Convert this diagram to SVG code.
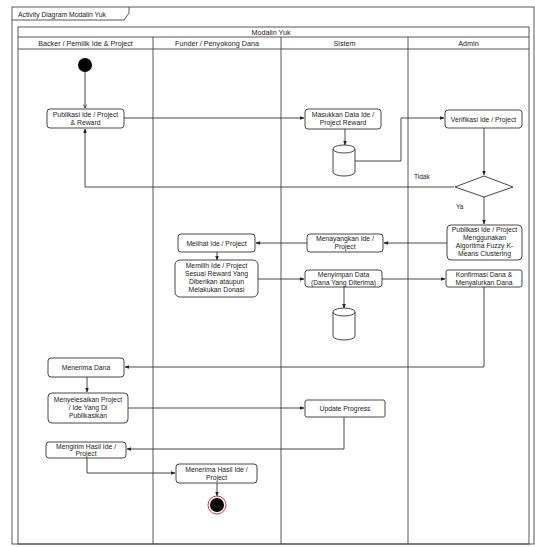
<svg xmlns="http://www.w3.org/2000/svg" width="535" height="547" viewBox="0 0 535 547">
<style>
text{font-family:"Liberation Sans",Arial,sans-serif;fill:#222;}
.t{font-size:6.8px;text-anchor:middle;}
.h{font-size:7.2px;text-anchor:middle;}
.box{fill:#fff;stroke:#333;stroke-width:0.9;}
.ln{fill:none;stroke:#333;stroke-width:0.9;}
.frame{fill:none;stroke:#444;stroke-width:0.9;}
.lbl{font-size:6.5px;}
</style>
<defs>
<marker id="arr" viewBox="0 0 10 10" refX="9" refY="5" markerWidth="5" markerHeight="5" orient="auto">
<path d="M0,1 L10,5 L0,9 Z" fill="#222"/>
</marker>
<marker id="open" viewBox="0 0 10 10" refX="9" refY="5" markerWidth="5" markerHeight="5" orient="auto">
<path d="M1,1 L9,5 L1,9" fill="none" stroke="#222" stroke-width="1.5"/>
</marker>
</defs>
<rect width="535" height="547" fill="#fff"/>

<g id="frame">
<rect class="frame" x="12" y="7" width="522" height="537"/>
<path class="frame" d="M12,20 H124 L129,13 V7"/>
<text x="18" y="17" font-size="6.8px">Activity Diagram Modalin Yuk</text>
</g>

<g id="pool">
<rect class="frame" x="18" y="27" width="511" height="517"/>
<line class="frame" x1="18" y1="37" x2="529" y2="37"/>
<line class="frame" x1="18" y1="49" x2="529" y2="49"/>
<text class="h" x="271" y="34.5">Modalin Yuk</text>
<line class="frame" x1="153" y1="37" x2="153" y2="544"/>
<line class="frame" x1="281" y1="37" x2="281" y2="544"/>
<line class="frame" x1="408" y1="37" x2="408" y2="544"/>
<text class="h" x="85.5" y="46">Backer / Pemilik Ide &amp; Project</text>
<text class="h" x="217" y="46">Funder / Penyokong Dana</text>
<text class="h" x="344.5" y="46">Sistem</text>
<text class="h" x="468.5" y="46">Admin</text>
</g>

<g id="connectors">
<line class="ln" x1="85" y1="72" x2="85" y2="108" marker-end="url(#open)"/>
<line class="ln" x1="124" y1="118" x2="304" y2="118" marker-end="url(#arr)"/>
<line class="ln" x1="345" y1="129" x2="345" y2="145" marker-end="url(#arr)"/>
<path class="ln" d="M355,161 H401 V118 H444" marker-end="url(#arr)"/>
<line class="ln" x1="484" y1="128" x2="484" y2="175" marker-end="url(#arr)"/>
<path class="ln" d="M454,187 H85 V129" marker-end="url(#arr)"/>
<line class="ln" x1="484" y1="197" x2="484" y2="224" marker-end="url(#arr)"/>
<line class="ln" x1="447" y1="243" x2="384" y2="243" marker-end="url(#arr)"/>
<line class="ln" x1="307" y1="243" x2="256" y2="243" marker-end="url(#arr)"/>
<line class="ln" x1="217" y1="252" x2="217" y2="260" marker-end="url(#arr)"/>
<line class="ln" x1="258" y1="279" x2="304" y2="279" marker-end="url(#arr)"/>
<line class="ln" x1="382" y1="279" x2="445" y2="279" marker-end="url(#arr)"/>
<line class="ln" x1="344" y1="287" x2="344" y2="308" marker-end="url(#arr)"/>
<path class="ln" d="M484,287 V367 H125" marker-end="url(#arr)"/>
<line class="ln" x1="87" y1="377" x2="87" y2="392" marker-end="url(#arr)"/>
<line class="ln" x1="128" y1="408" x2="304" y2="408" marker-end="url(#arr)"/>
<path class="ln" d="M344,417 V449 H127" marker-end="url(#arr)"/>
<path class="ln" d="M87,458 V473 H175" marker-end="url(#arr)"/>
<line class="ln" x1="217" y1="483" x2="217" y2="496" marker-end="url(#arr)"/>
</g>

<g id="start"><circle cx="85" cy="65" r="7" fill="#000"/></g>

<g id="publikasi">
<rect class="box" x="47" y="109" width="77" height="19" rx="3"/>
<text class="t" x="85.5" y="116.5">Publikasi Ide / Project</text>
<text class="t" x="85.5" y="124.5">&amp; Reward</text>
</g>

<g id="masukkan">
<rect class="box" x="305" y="109" width="76" height="20" rx="3"/>
<text class="t" x="343" y="117">Masukkan Data Ide /</text>
<text class="t" x="343" y="125">Project Reward</text>
</g>

<g id="db1">
<path class="box" d="M333,149 V172 A11,4 0 0 0 355,172 V149 A11,4 0 0 0 333,149 Z"/>
<path class="ln" d="M333,149 A11,4 0 0 0 355,149"/>
</g>

<g id="verifikasi">
<rect class="box" x="445" y="110" width="77" height="18" rx="3"/>
<text class="t" x="483.5" y="121.5">Verifikasi Ide / Project</text>
</g>

<g id="decision">
<path class="box" d="M484,176 L513,187 L484,197 L455,187 Z"/>
<text class="lbl" x="414" y="179">Tidak</text>
<text class="lbl" x="456" y="209">Ya</text>
</g>

<g id="publikasiFuzzy">
<rect class="box" x="447" y="225" width="75" height="35" rx="4"/>
<text class="t" x="484.5" y="232">Publikasi Ide / Project</text>
<text class="t" x="484.5" y="240">Menggunakan</text>
<text class="t" x="484.5" y="248">Algoritma Fuzzy K-</text>
<text class="t" x="484.5" y="256">Means Clustering</text>
</g>

<g id="menayangkan">
<rect class="box" x="307" y="234" width="76" height="18" rx="3"/>
<text class="t" x="345" y="241">Menayangkan Ide /</text>
<text class="t" x="345" y="249">Project</text>
</g>

<g id="melihat">
<rect class="box" x="178" y="234" width="77" height="18" rx="3"/>
<text class="t" x="216.5" y="245.5">Melihat Ide / Project</text>
</g>

<g id="memilih">
<rect class="box" x="175" y="260" width="83" height="37" rx="5"/>
<text class="t" x="216.5" y="268">Memilih Ide / Project</text>
<text class="t" x="216.5" y="276">Sesuai Reward Yang</text>
<text class="t" x="216.5" y="284">Diberikan ataupun</text>
<text class="t" x="216.5" y="292">Melakukan Donasi</text>
</g>

<g id="menyimpan">
<rect class="box" x="305" y="270" width="77" height="17" rx="3"/>
<text class="t" x="343.5" y="277">Menyimpan Data</text>
<text class="t" x="343.5" y="285">(Dana Yang Diterima)</text>
</g>

<g id="db2">
<path class="box" d="M333,312 V336 A11,4 0 0 0 355,336 V312 A11,4 0 0 0 333,312 Z"/>
<path class="ln" d="M333,312 A11,4 0 0 0 355,312"/>
</g>

<g id="konfirmasi">
<rect class="box" x="446" y="270" width="76" height="17" rx="2"/>
<text class="t" x="484" y="277">Konfirmasi Dana &amp;</text>
<text class="t" x="484" y="285">Menyalurkan Dana</text>
</g>

<g id="menerimaDana">
<rect class="box" x="48" y="358" width="76" height="19" rx="3"/>
<text class="t" x="86" y="370">Menerima Dana</text>
</g>

<g id="menyelesaikan">
<rect class="box" x="48" y="393" width="80" height="30" rx="4"/>
<text class="t" x="88" y="402">Menyelesaikan Project</text>
<text class="t" x="88" y="410">/ Ide Yang Di</text>
<text class="t" x="88" y="418">Publikasikan</text>
</g>

<g id="update">
<rect class="box" x="305" y="400" width="80" height="17" rx="2"/>
<text class="t" x="345" y="411">Update Progress</text>
</g>

<g id="mengirim">
<rect class="box" x="46" y="442" width="80" height="16" rx="3"/>
<text class="t" x="86" y="448.5">Mengirim Hasil Ide /</text>
<text class="t" x="86" y="456">Project</text>
</g>

<g id="menerimaHasil">
<rect class="box" x="176" y="464" width="81" height="19" rx="3"/>
<text class="t" x="216.5" y="471.5">Menerima Hasil Ide /</text>
<text class="t" x="216.5" y="479.5">Project</text>
</g>

<g id="end">
<circle cx="217" cy="505" r="9" fill="#fff" stroke="#e0303a" stroke-width="1"/>
<circle cx="217" cy="505" r="7" fill="#000"/>
</g>
</svg>
